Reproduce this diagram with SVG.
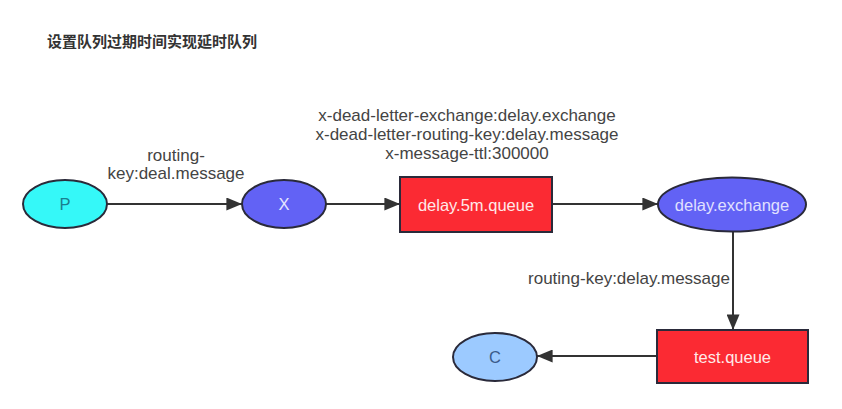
<svg xmlns="http://www.w3.org/2000/svg" width="842" height="409" viewBox="0 0 842 409">
<defs>
<marker id="arrb" viewBox="0 0 12 10" refX="12" refY="5" markerWidth="16" markerHeight="13" markerUnits="userSpaceOnUse" orient="auto">
<path d="M0,0 L12,5 L0,10 Z" fill="#333"/>
</marker>
</defs>
<style>
text{font-family:"Liberation Sans","Noto Sans CJK SC",sans-serif;}
.lbl{font-size:17px;fill:#444;text-anchor:middle;}
.nt{font-size:16.5px;text-anchor:middle;dominant-baseline:central;}
.shape{stroke:#2a2a3a;stroke-width:2;}
.edge{stroke:#333;stroke-width:2;fill:none;marker-end:url(#arrb);}
</style>
<rect width="842" height="409" fill="#ffffff"/>
<text x="47" y="47" font-size="15" font-weight="bold" fill="#333" style="font-family:'Noto Sans CJK SC',sans-serif">设置队列过期时间实现延时队列</text>
<g id="connectors">
<line class="edge" x1="107" y1="204" x2="242" y2="204"/>
<line class="edge" x1="326" y1="204" x2="400" y2="204"/>
<line class="edge" x1="552" y1="204" x2="658" y2="204"/>
<line class="edge" x1="733" y1="232" x2="733" y2="330"/>
<line class="edge" x1="657" y1="356" x2="537" y2="356"/>
<text class="lbl" x="176" y="161">routing-</text>
<text class="lbl" x="176" y="179">key:deal.message</text>
<text class="lbl" x="467" y="121">x-dead-letter-exchange:delay.exchange</text>
<text class="lbl" x="467" y="140">x-dead-letter-routing-key:delay.message</text>
<text class="lbl" x="467" y="159">x-message-ttl:300000</text>
<text class="lbl" x="629" y="284">routing-key:delay.message</text>
</g>
<g id="node-P">
<ellipse class="shape" cx="65" cy="204" rx="42" ry="24" fill="#35f8f8"/>
<text class="nt" x="65" y="204" fill="#1a7f8f">P</text>
</g>
<g id="node-X">
<ellipse class="shape" cx="284" cy="204" rx="42" ry="24" fill="#6262f5" stroke="#1e1e50"/>
<text class="nt" x="284" y="204" fill="#e6e6ff">X</text>
</g>
<g id="node-delay5m">
<rect class="shape" x="400" y="177" width="152" height="55" fill="#fb2a33"/>
<text class="nt" x="476" y="204.5" fill="#ffe8e8">delay.5m.queue</text>
</g>
<g id="node-delayexchange">
<ellipse class="shape" cx="732" cy="204.5" rx="74" ry="27" fill="#6262f5" stroke="#1e1e50"/>
<text class="nt" x="732" y="204.5" fill="#e0e0ff">delay.exchange</text>
</g>
<g id="node-testqueue">
<rect class="shape" x="657" y="330" width="151" height="53" fill="#fb2a33"/>
<text class="nt" x="732.5" y="356.5" fill="#ffe8e8">test.queue</text>
</g>
<g id="node-C">
<ellipse class="shape" cx="495" cy="357" rx="42" ry="24" fill="#9ccaff"/>
<text class="nt" x="495" y="357" fill="#3a5a8a">C</text>
</g>
</svg>
